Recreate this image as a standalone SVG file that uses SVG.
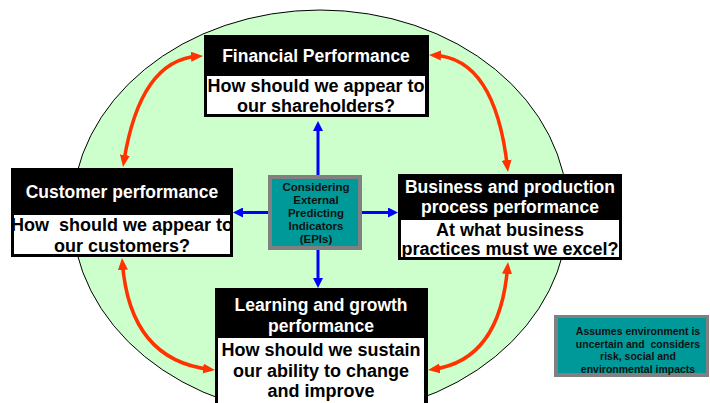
<svg xmlns="http://www.w3.org/2000/svg" width="710" height="403" viewBox="0 0 710 403">
<style>
.title{font-family:"Liberation Sans",Arial,sans-serif;font-weight:bold;font-size:17.5px;fill:#ffffff;text-anchor:middle}
.body{font-family:"Liberation Sans",Arial,sans-serif;font-weight:bold;font-size:18px;fill:#000000;text-anchor:middle}
.small{font-family:"Liberation Sans",Arial,sans-serif;font-weight:bold;font-size:11.5px;fill:#111111;text-anchor:middle}
.note{font-family:"Liberation Sans",Arial,sans-serif;font-weight:bold;font-size:10.5px;fill:#111111;text-anchor:middle}
.red{fill:none;stroke:#ff3300;stroke-width:3.5;marker-start:url(#rh);marker-end:url(#rh)}
.blue{fill:none;stroke:#0000ff;stroke-width:3;marker-end:url(#bh)}
</style>
<defs>
<marker id="rh" viewBox="0 0 12 10" refX="7" refY="5" markerWidth="12" markerHeight="10" markerUnits="userSpaceOnUse" orient="auto-start-reverse">
<path d="M0,0 L12,5 L0,10 Z" fill="#ff3300"/>
</marker>
<marker id="bh" viewBox="0 0 10 10" refX="6" refY="5" markerWidth="10" markerHeight="10" markerUnits="userSpaceOnUse" orient="auto">
<path d="M0,0 L10,5 L0,10 Z" fill="#0000ff"/>
</marker>
</defs>
<rect width="710" height="403" fill="#ffffff"/>
<ellipse id="ellipse" cx="320" cy="213" rx="248" ry="203" fill="#ccffcc" stroke="#000000" stroke-width="1"/>
<g id="connectors">
<path class="red" d="M198,56.3 Q140,60 123.8,162"/>
<path class="red" d="M434,55.2 Q495,58 507.4,167"/>
<path class="red" d="M122.4,263 Q130,360 210,369.4"/>
<path class="red" d="M507.6,267 Q500,360 433,369.3"/>
<path class="blue" d="M318,175 L318,125"/>
<path class="blue" d="M318,250 L318,284"/>
<path class="blue" d="M268,212.5 L237,212.5"/>
<path class="blue" d="M362,212.5 L394,212.5"/>
</g>
<g id="financial">
<rect x="204" y="35" width="225" height="82" fill="#000000"/>
<rect x="207" y="76" width="218" height="38" fill="#ffffff"/>
<text class="title" x="316" y="62">Financial Performance</text>
<text class="body" x="316" y="92">How should we appear to</text>
<text class="body" x="316" y="112">our shareholders?</text>
</g>
<g id="customer">
<rect x="11" y="168" width="222" height="89" fill="#000000"/>
<rect x="14" y="215" width="216" height="39" fill="#ffffff"/>
<text class="title" x="122" y="198">Customer performance</text>
<text class="body" x="122" y="231" xml:space="preserve">How  should we appear to</text>
<text class="body" x="122" y="252">our customers?</text>
</g>
<g id="business">
<rect x="398" y="174" width="224" height="86" fill="#000000"/>
<rect x="401" y="220" width="218" height="37" fill="#ffffff"/>
<text class="title" x="510" y="193">Business and production</text>
<text class="title" x="510" y="213">process performance</text>
<text class="body" x="510" y="236">At what business</text>
<text class="body" x="510" y="255">practices must we excel?</text>
</g>
<g id="learning">
<rect x="215" y="288" width="213" height="120" fill="#000000"/>
<rect x="218" y="338" width="206" height="70" fill="#ffffff"/>
<text class="title" x="321" y="311">Learning and growth</text>
<text class="title" x="321" y="332">performance</text>
<text class="body" x="321" y="356">How should we sustain</text>
<text class="body" x="321" y="377">our ability to change</text>
<text class="body" x="321" y="397">and improve</text>
</g>
<g id="epis">
<rect x="268" y="175" width="94" height="75" fill="#808080"/>
<rect x="272" y="179" width="86" height="67" fill="#009999"/>
<text class="small" x="316" y="191">Considering</text>
<text class="small" x="316" y="204">External</text>
<text class="small" x="316" y="217">Predicting</text>
<text class="small" x="316" y="230">Indicators</text>
<text class="small" x="316" y="243">(EPIs)</text>
</g>
<g id="assumes">
<rect x="554" y="315" width="155" height="62" fill="#808080"/>
<rect x="558" y="318" width="148" height="55" fill="#009999"/>
<text class="note" x="638" y="335">Assumes environment is</text>
<text class="note" x="638" y="347.7" xml:space="preserve">uncertain and  considers</text>
<text class="note" x="638" y="360.3">risk, social and</text>
<text class="note" x="638" y="373">environmental impacts</text>
</g>
</svg>
